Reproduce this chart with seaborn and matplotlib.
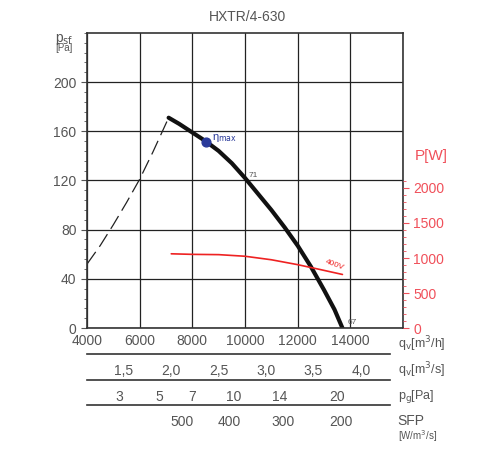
import numpy as np
import matplotlib
matplotlib.use("Agg")
import matplotlib.pyplot as plt
import seaborn as sns

sns.set_style("white")
plt.rcParams['font.family'] = ['Liberation Sans', 'DejaVu Sans']

# fan curve (q m3/h, p Pa)
curve_q = [7100, 7500, 8000, 8500, 9000, 9500, 10000, 10500, 11000, 11500, 12000, 12500, 13000, 13400, 13700]
curve_p = [171, 166, 159, 152, 144, 134, 122, 109, 96, 82, 67, 50, 31, 15, 0]
dash_q = [4000, 4500, 5000, 5500, 6000, 6500, 7100]
dash_p = [52, 67, 84, 102, 121, 143, 171]
# power curve (q m3/h, P W)
pow_q = [7200, 8000, 9000, 10000, 11000, 12000, 12800, 13700]
pow_w = [1060, 1052, 1048, 1025, 975, 905, 840, 765]
eta_q, eta_p = [8500], [151]
# secondary scales
qs_major = [1.5, 2.0, 2.5, 3.0, 3.5, 4.0]
pg_labels = [3, 5, 7, 10, 14, 20]
sfp_labels = [500, 400, 300, 200]
sfp_q = [7600, 9400, 11450, 13650]

grey = "#555555"
red = "#f0505a"
fig = plt.figure(figsize=(5, 4.5), dpi=100)
ax = fig.add_axes([0.174, 0.271, 0.632, 0.656])
ax.set_xlim(4000, 16000)
ax.set_ylim(0, 240)
ax.set_xticks(range(4000, 16001, 2000))
ax.set_xticklabels([str(v) for v in range(4000, 14001, 2000)] + [""], color=grey, fontsize=10)
ax.set_yticks(range(0, 201, 40))
ax.set_yticks(range(0, 241, 8), minor=True)
ax.tick_params(axis='y', which='major', length=4, color=grey, labelcolor=grey, labelsize=10, direction='out', left=True)
ax.tick_params(axis='y', which='minor', length=2, color=grey, left=True)
ax.tick_params(axis='x', length=0, labelsize=10, pad=4)
ax.grid(True, which='major', color='#222222', lw=0.9)
for s in ax.spines.values():
    s.set_color('#333333'); s.set_linewidth(1.2)

sns.lineplot(x=curve_q, y=curve_p, ax=ax, color='#111111', lw=3)
ax.plot(dash_q, dash_p, color='#222222', lw=0.9, dashes=(12, 5))
ax.scatter(eta_q, eta_p, color='#2a3a9a', s=40, zorder=5)
ax.text(8750, 153, r"η$_{\mathrm{max}}$", color='#2a3a9a', fontsize=8)
ax.text(10150, 123, "71", color=grey, fontsize=6)
ax.text(13900, 3, "67", color=grey, fontsize=6)

ax2 = ax.twinx()
ax2.set_ylim(0, 2000 * 295 / 140)
ax2.set_yticks(range(0, 2001, 500))
ax2.set_yticks(range(0, 2101, 100), minor=True)
ax2.tick_params(axis='y', which='major', length=4, color=red, labelcolor=red, labelsize=10)
ax2.tick_params(axis='y', which='minor', length=2, color=red)
for s in ax2.spines.values():
    s.set_visible(False)
sns.lineplot(x=pow_q, y=pow_w, ax=ax2, color='#ee2222', lw=1.2)
ax2.text(13000, 840, "400V", color='#ee2222', fontsize=6, rotation=-20)
ax2.grid(False)

def scale_axis(ypix, major, labels, minor):
    a = fig.add_axes([0.174, 1 - ypix / 450, 0.632 * (390 - 87) / 316, 0.0001])
    a.set_xlim(4000, 4000 + 12000 * (390 - 87) / 316)
    a.set_yticks([])
    for k in ['top', 'left', 'right']:
        a.spines[k].set_visible(False)
    a.spines['bottom'].set_color('#333333'); a.spines['bottom'].set_linewidth(1.2)
    a.set_xticks(major)
    a.set_xticklabels(labels, color=grey, fontsize=10)
    a.set_xticks(minor, minor=True)
    a.tick_params(axis='x', which='major', length=4, color='#333333', pad=3, direction='out')
    a.tick_params(axis='x', which='minor', length=3, color='#333333', direction='out')
    return a

scale_axis(354, [v * 3600 for v in qs_major], [f"{v:.1f}".replace('.', ',') for v in qs_major],
           [v * 3600 for v in np.arange(1.25, 4.3, 0.25)])
A = 0.65
pg_q = lambda p: np.sqrt(np.array(p) / 0.6) * A * 3600
scale_axis(380, pg_q(pg_labels), [str(v) for v in pg_labels], pg_q(list(range(2, 26))))
sfp_minor = np.arange(200, 521, 20)
minor_q = np.interp(-sfp_minor, [-v for v in sfp_labels], sfp_q)
scale_axis(405, sfp_q, [str(v) for v in sfp_labels], minor_q)

fig.text(0.496, 0.962, "HXTR/4-630", ha='center', va='center', color=grey, fontsize=10)
fig.text(0.128, 0.912, r"p$_{\mathrm{sf}}$", ha='center', va='center', color=grey, fontsize=10)
fig.text(0.128, 0.893, "[Pa]", ha='center', va='center', color=grey, fontsize=7)
fig.text(0.83, 0.645, "P[W]", color=red, fontsize=11)
fig.text(0.795, 0.225, r"q$_{\mathrm{v}}$[m$^3$/h]", color=grey, fontsize=9)
fig.text(0.795, 0.168, r"q$_{\mathrm{v}}$[m$^3$/s]", color=grey, fontsize=9)
fig.text(0.795, 0.113, r"p$_{\mathrm{g}}$[Pa]", color=grey, fontsize=9)
fig.text(0.795, 0.055, "SFP", color=grey, fontsize=10)
fig.text(0.795, 0.022, r"[W/m$^3$/s]", color=grey, fontsize=7)
fig.savefig("out.png", dpi=100)
